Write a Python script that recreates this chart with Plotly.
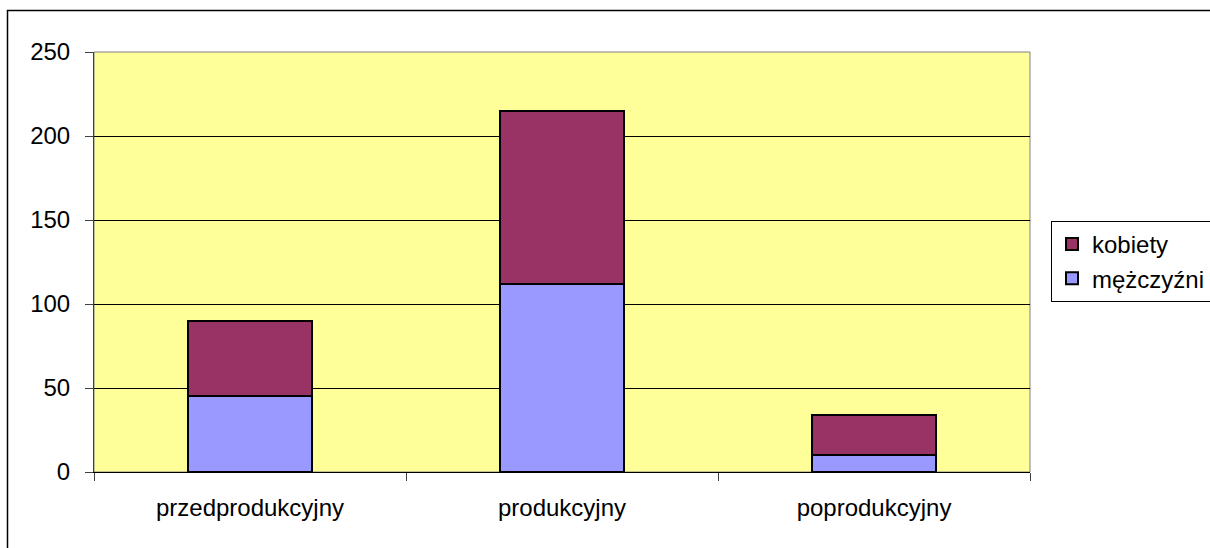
import plotly.graph_objects as go

categories = ["przedprodukcyjny", "produkcyjny", "poprodukcyjny"]
mezczyzni = [45, 112, 10]
kobiety = [45, 103, 24]
y_ticks = [0, 50, 100, 150, 200, 250]

W, H = 1210, 548
L, R, T, B = 94, 1030, 52, 472

fig = go.Figure()
fig.add_trace(go.Bar(x=categories, y=mezczyzni, name="mężczyźni",
                     marker=dict(color="#9999FF", line=dict(color="#000000", width=2)),
                     width=0.4))
fig.add_trace(go.Bar(x=categories, y=kobiety, name="kobiety",
                     marker=dict(color="#993366", line=dict(color="#000000", width=2)),
                     width=0.4))

font = dict(family="Liberation Sans, Arial, sans-serif", size=24, color="#000000")

fig.update_layout(
    width=W, height=H,
    margin=dict(l=L, r=W - R, t=T, b=H - B, autoexpand=False),
    barmode="stack",
    paper_bgcolor="#FFFFFF",
    plot_bgcolor="#FFFF99",
    font=font,
    showlegend=True,
    legend=dict(
        x=(1051 - L) / (R - L), y=(B - 221) / (B - T),
        xanchor="left", yanchor="top",
        traceorder="reversed",
        bgcolor="#FFFFFF", bordercolor="#000000", borderwidth=1,
        font=font,
    ),
    xaxis=dict(
        tickson="boundaries", ticks="outside", ticklen=8, tickcolor="#404040",
        showline=True, linecolor="#000000", linewidth=1,
        showgrid=False, tickfont=font, ticklabelstandoff=14,
    ),
    yaxis=dict(
        range=[0, 250], tickvals=y_ticks, ticks="outside", ticklen=8,
        tickcolor="#404040",
        showline=True, linecolor="#404040", linewidth=1,
        showgrid=True, gridcolor="#000000", gridwidth=1,
        zeroline=False, tickfont=font, ticklabelstandoff=10,
    ),
)

# plot area border (top/right grey)
fig.add_shape(type="rect", xref="paper", yref="paper", x0=0, y0=0, x1=1, y1=1,
              line=dict(color="#808080", width=1), layer="below")
# outer chart frame
fig.add_shape(type="rect", xref="paper", yref="paper",
              x0=(7.5 - L) / (R - L), y0=(B - 10.5) / (B - T),
              x1=(1260 - L) / (R - L), y1=(B - 600) / (B - T),
              line=dict(color="#000000", width=1.5))

fig.write_html(
    "out.html",
    config={"displayModeBar": False},
    post_script="document.body.style.margin='0';document.body.style.overflow='hidden';",
)
